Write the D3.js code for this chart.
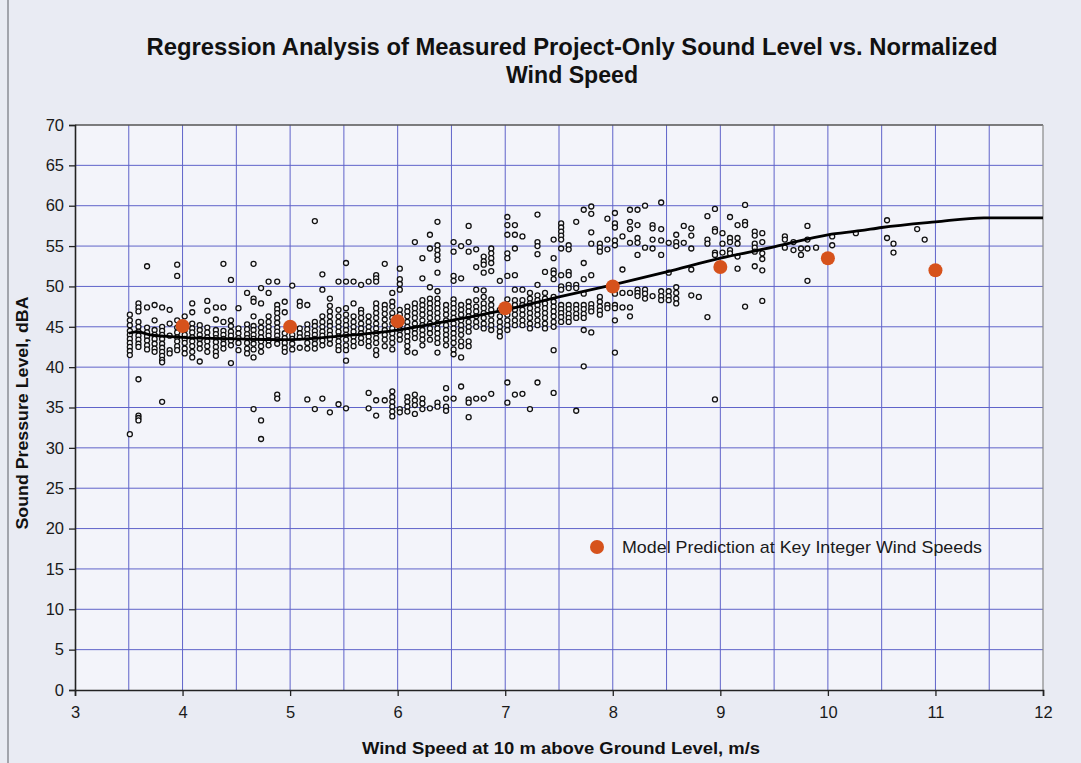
<!DOCTYPE html>
<html><head><meta charset="utf-8">
<script src="https://cdn.jsdelivr.net/npm/d3@7"></script>
<style>
html,body{margin:0;padding:0;background:#e9ebf3;}
svg{display:block;font-family:"Liberation Sans",Arial,sans-serif;}
</style></head>
<body>
<svg id="chart" width="1081" height="763"></svg>
<script>
// ---------- data ----------
const titleLines = ["Regression Analysis of Measured Project-Only Sound Level vs. Normalized", "Wind Speed"];
const xLabel = "Wind Speed at 10 m above Ground Level, m/s";
const yLabel = "Sound Pressure Level, dBA";
const legendLabel = "Model Prediction at Key Integer Wind Speeds";
const xTicks = [3,4,5,6,7,8,9,10,11,12];
const yTicks = [0,5,10,15,20,25,30,35,40,45,50,55,60,65,70];
const xGrid = [3.5,4,4.5,5,5.5,6,6.5,7,7.5,8,8.5,9,9.5,10,10.5,11,11.5];
const yGrid = [5,10,15,20,25,30,35,40,45,50,55,60,65];

// measured points, grouped by wind-speed column: [x, [y values]]
const measured = [
[3.51,[46.5,45.8,45.2,44.5,44.0,43.5,43.0,42.5,42.0,41.5,31.7]],
[3.59,[47.9,47.4,46.9,45.6,45.0,44.4,43.9,43.4,42.9,42.5,38.5,34.0,33.7,33.4]],
[3.67,[52.5,47.4,44.9,44.3,43.8,43.3,42.7,42.2]],
[3.74,[47.7,45.8,44.6,44.0,43.5,42.9,42.3,41.9]],
[3.81,[47.4,45.0,44.5,44.0,43.5,42.9,42.4,41.9,41.4,40.9,40.6,35.7]],
[3.88,[47.1,45.4,43.9,42.1,41.7]],
[3.95,[52.7,51.3,45.8,44.9,44.3,43.7,43.2,42.6,42.1]],
[4.02,[46.3,44.6,44.0,43.5,43.0,42.3,41.7]],
[4.09,[47.9,46.8,45.4,44.8,44.3,43.7,43.2,42.6,41.9,41.2]],
[4.16,[45.2,44.6,44.0,43.5,42.9,42.3,40.7]],
[4.23,[48.2,47.0,44.9,44.3,43.7,43.2,42.6,41.9]],
[4.31,[47.4,45.9,44.6,44.1,43.6,43.1,42.5,41.9,41.4]],
[4.38,[52.8,47.4,45.6,44.5,44.0,43.5,42.9,42.3]],
[4.45,[50.8,45.8,45.1,44.4,43.9,43.3,42.7,40.5]],
[4.52,[47.3,44.8,44.2,43.6,43.0,42.1]],
[4.60,[49.2,45.3,44.7,44.1,43.6,43.0,42.3,41.7]],
[4.66,[52.8,48.5,48.1,46.3,45.1,44.6,44.0,43.5,42.9,42.2,41.2,34.8]],
[4.73,[49.8,47.9,45.6,44.9,44.3,43.7,43.2,42.6,41.9,33.4,31.1]],
[4.80,[50.6,49.2,46.3,45.6,45.0,44.4,43.9,43.3,42.7]],
[4.88,[50.6,47.7,47.2,46.7,46.1,45.5,44.9,44.4,43.9,43.4,42.9,36.6,36.1]],
[4.95,[48.1,46.8,44.2,43.6,43.0,42.4,41.9]],
[5.02,[50.1,44.0,43.5,42.9,42.2]],
[5.09,[48.1,47.6,44.8,44.2,43.7,42.4]],
[5.16,[47.7,45.3,44.7,44.1,43.6,43.0,42.3,36.0]],
[5.23,[58.1,45.6,45.1,44.5,44.0,43.5,42.9,42.3,34.8]],
[5.30,[51.5,49.6,46.3,45.6,45.0,44.4,43.9,43.3,42.7,36.1]],
[5.37,[48.5,47.6,46.9,46.3,45.6,45.1,44.5,44.0,43.5,42.9,34.4]],
[5.45,[50.6,47.1,46.3,45.6,45.0,44.4,43.8,43.2,42.6,42.1,35.4]],
[5.52,[52.9,50.6,47.3,46.5,45.8,45.2,44.6,44.0,43.4,42.7,42.1,40.8,34.9]],
[5.59,[50.6,47.9,46.3,45.6,45.0,44.4,43.8,43.2,42.6]],
[5.66,[50.2,47.1,46.7,46.1,45.4,44.8,44.2,43.6,43.0]],
[5.73,[50.6,46.3,45.6,45.0,44.4,43.8,43.2,42.6,36.8,34.9]],
[5.80,[51.4,51.0,50.6,47.9,47.3,46.7,46.1,45.4,44.8,44.2,43.6,43.0,42.1,41.5,35.9,34.0]],
[5.88,[52.8,47.7,47.2,46.6,45.9,45.2,44.6,44.0,43.4,42.6,35.9]],
[5.95,[49.2,48.1,47.5,46.7,46.1,45.4,44.8,44.2,43.6,43.0,42.2,37.0,36.3,35.7,35.1,34.5,33.9]],
[6.02,[52.2,50.9,50.3,49.6,47.1,46.5,45.8,45.2,44.6,44.0,43.4,34.8,34.4]],
[6.09,[47.5,46.9,46.3,45.6,45.0,44.4,43.8,43.2,42.6,41.9,36.3,35.7,35.1,34.5]],
[6.16,[55.5,47.9,47.3,46.7,46.1,45.4,44.8,44.2,43.6,41.8,36.6,35.9,35.3,34.2]],
[6.23,[53.5,51.0,48.3,47.7,47.1,46.5,45.8,45.2,44.6,44.0,43.4,42.7,36.1,35.5,34.8]],
[6.30,[56.4,54.7,49.9,48.5,47.9,47.3,46.7,46.1,45.4,44.8,44.2,43.4,34.9]],
[6.37,[58.0,55.1,54.5,53.9,53.3,51.7,49.4,48.5,47.9,47.3,46.7,46.1,45.4,44.8,44.2,43.6,43.0,41.8,35.6,35.1]],
[6.45,[47.7,47.1,46.5,45.8,45.2,44.6,44.0,43.4,42.7,37.4,36.1,35.1,34.6]],
[6.52,[55.5,54.3,51.3,50.7,48.4,47.9,47.3,46.7,46.1,45.4,44.8,44.2,43.6,43.0,42.2,41.6,36.1]],
[6.59,[55.0,51.0,47.7,47.1,46.5,45.8,45.2,44.6,44.0,43.2,42.6,41.2,37.6]],
[6.66,[57.5,55.5,54.3,48.1,47.5,46.9,46.3,45.6,45.0,44.4,43.2,42.6,36.0,35.6,33.8]],
[6.73,[54.6,52.4,49.6,48.3,47.5,46.9,46.3,45.6,45.0,36.1]],
[6.80,[53.7,53.1,52.7,51.7,49.5,48.7,47.9,47.3,46.7,46.1,45.4,44.8,36.1]],
[6.87,[54.7,54.1,53.5,52.9,51.9,48.4,47.7,47.1,46.5,45.8,45.2,44.6,36.7]],
[6.95,[50.7,47.1,46.3,45.6,45.0,44.4,43.8]],
[7.02,[58.6,57.6,56.4,54.1,53.5,51.3,48.4,47.1,46.5,45.8,45.2,44.6,38.1,35.6]],
[7.09,[57.6,56.4,54.7,51.4,49.6,48.3,47.7,47.1,46.5,45.8,45.2,36.6]],
[7.16,[56.2,49.6,48.3,47.7,47.1,46.5,45.8,45.2,36.7]],
[7.23,[49.2,48.5,47.9,47.3,46.7,46.1,45.4,44.8,34.8]],
[7.30,[58.9,55.5,55.0,54.0,50.2,48.9,48.3,47.7,47.1,46.5,45.8,45.2,38.1]],
[7.37,[51.8,49.2,48.5,47.9,47.3,46.7,46.1,45.4,44.8]],
[7.45,[55.8,53.5,52.0,51.6,50.9,48.7,48.1,47.5,46.9,46.3,45.6,45.0,42.1,36.8]],
[7.52,[57.8,57.3,56.8,56.3,55.8,54.7,51.4,50.0,49.6,47.7,47.2,46.7,46.2,45.6]],
[7.59,[55.1,54.6,51.8,51.4,50.2,49.8,47.7,47.2,46.6,46.1,45.6]],
[7.66,[58.0,50.2,49.8,47.7,47.2,46.6,46.1,34.6]],
[7.73,[59.5,52.9,50.9,49.1,47.7,47.2,46.6,46.1,44.6,40.1]],
[7.80,[59.9,59.0,56.7,55.3,51.4,47.8,47.3,46.9,44.3]],
[7.88,[55.3,54.8,54.3,48.7,48.1,47.5,47.0,46.5]],
[7.95,[58.4,55.8,54.6,47.7,47.3]],
[8.02,[59.1,57.8,57.3,55.7,55.1,49.1,47.7,47.3,45.8,41.8]],
[8.09,[56.2,52.1,49.2,47.4]],
[8.16,[59.5,58.0,57.1,55.4,49.2,47.4,46.3]],
[8.23,[59.5,57.6,56.0,55.4,53.9,49.6,49.2,48.8]],
[8.30,[60.0,54.8,49.6,49.1,48.5]],
[8.37,[57.6,57.2,55.8,54.7,48.8]],
[8.45,[60.4,57.1,55.7,53.9,49.4,48.8,48.3]],
[8.52,[55.4,51.7,49.4,48.8,48.3]],
[8.59,[56.4,55.5,55.0,49.9,49.2,48.5,47.9]],
[8.66,[57.5,55.4]],
[8.73,[57.2,56.3,54.7,52.1,48.9]],
[8.80,[48.7]],
[8.88,[58.7,55.8,55.3,46.2]],
[8.95,[59.6,57.1,56.8,54.2,53.9,36.0]],
[9.02,[56.6,55.3,54.2]],
[9.09,[58.6,56.0,55.5,54.5,54.1]],
[9.16,[57.6,56.0,55.3,53.7,52.2]],
[9.23,[60.1,58.0,57.6,47.5]],
[9.32,[56.8,56.3,55.3,54.8,54.3,52.5]],
[9.39,[56.6,55.5,54.1,53.4,52.0,48.2]],
[9.60,[56.2,55.8,54.8]],
[9.68,[55.5,54.5]],
[9.75,[54.7,53.9]],
[9.81,[57.5,55.8,54.7,50.7]],
[9.89,[54.8]],
[10.04,[56.2,55.1]],
[10.26,[56.6]],
[10.55,[58.2,56.0]],
[10.61,[55.3,54.2]],
[10.83,[57.1]],
[10.90,[55.8]]
];

// regression curve
const fitX = [3.5,3.58,3.7,4.0,4.5,5.0,5.5,6.0,6.5,7.0,7.5,8.0,8.5,9.0,9.5,10.0,10.3,10.5,11.0,11.45,12.0];
const fitY = [44.2,44.4,44.0,43.7,43.5,43.4,43.9,44.6,45.8,47.1,48.7,50.2,51.8,53.5,54.9,56.4,56.9,57.3,58.0,58.5,58.5];

// model predictions at integer wind speeds
const modelX = [4,5,6,7,8,9,10,11];
const modelY = [45.1,45.0,45.7,47.3,50.0,52.4,53.5,52.0];

// ---------- drawing ----------
const svg = d3.select("#chart");
const W = 1081, H = 763;
const m = {left:75, right:1043, top:125, bottom:690};
const x = d3.scaleLinear().domain([3,12]).range([m.left, m.right]);
const y = d3.scaleLinear().domain([0,70]).range([m.bottom, m.top]);

// scan frame line on left
svg.append("line").attr("x1",8).attr("x2",8).attr("y1",0).attr("y2",H)
  .attr("stroke","#8a8c94").attr("stroke-width",1.5);

// plot background
svg.append("rect").attr("x",m.left).attr("y",m.top)
  .attr("width",m.right-m.left).attr("height",m.bottom-m.top)
  .attr("fill","#f3f4fa");

// grid
const grid = svg.append("g").attr("stroke","#5f63c9").attr("stroke-width",1);
grid.selectAll(".vg").data(xGrid).join("line")
  .attr("x1",d=>x(d)).attr("x2",d=>x(d)).attr("y1",m.top).attr("y2",m.bottom);
grid.selectAll(".hg").data(yGrid).join("line")
  .attr("x1",m.left).attr("x2",m.right).attr("y1",d=>y(d)).attr("y2",d=>y(d));

// frame top/right
svg.append("line").attr("x1",m.left).attr("x2",m.right).attr("y1",m.top).attr("y2",m.top)
  .attr("stroke","#555").attr("stroke-width",1.5);
svg.append("line").attr("x1",m.right).attr("x2",m.right).attr("y1",m.top).attr("y2",m.bottom)
  .attr("stroke","#888").attr("stroke-width",1.2);

// axes
const xAxis = d3.axisBottom(x).tickValues(xTicks).tickSize(6).tickPadding(10).tickFormat(d3.format("d"));
const yAxis = d3.axisLeft(y).tickValues(yTicks).tickSize(6).tickPadding(5).tickFormat(d3.format("d"));
const gx = svg.append("g").attr("transform",`translate(0,${m.bottom})`).call(xAxis);
const gy = svg.append("g").attr("transform",`translate(${m.left},0)`).call(yAxis);
[gx,gy].forEach(g=>{
  g.select(".domain").attr("stroke","#222").attr("stroke-width",1.6);
  g.selectAll(".tick line").attr("stroke","#222").attr("stroke-width",1.3);
  g.selectAll(".tick text").attr("fill","#1a1a1a").style("font-size","16.5px")
    .style("font-family","'Liberation Sans',Arial,sans-serif");
});

// measured points
const pts = [];
measured.forEach(([xv, ys]) => ys.forEach(yv => pts.push([xv, yv])));
svg.append("g").selectAll("circle").data(pts).join("circle")
  .attr("cx",d=>x(d[0])).attr("cy",d=>y(d[1])).attr("r",2.5)
  .attr("fill","#f8f8fb").attr("stroke","#111").attr("stroke-width",1.3);

// regression curve
const line = d3.line().x(d=>x(d[0])).y(d=>y(d[1])).curve(d3.curveMonotoneX);
svg.append("path").datum(fitX.map((v,i)=>[v,fitY[i]]))
  .attr("d",line).attr("fill","none").attr("stroke","#000").attr("stroke-width",2.8);

// model predictions
svg.append("g").selectAll("circle").data(modelX.map((v,i)=>[v,modelY[i]])).join("circle")
  .attr("cx",d=>x(d[0])).attr("cy",d=>y(d[1])).attr("r",7).attr("fill","#d6521c");

// legend
svg.append("circle").attr("cx",597).attr("cy",547).attr("r",7).attr("fill","#d6521c");
svg.append("text").attr("x",622).attr("y",553).text(legendLabel)
  .attr("textLength",360).attr("lengthAdjust","spacingAndGlyphs")
  .style("font-size","17px").attr("fill","#1a1a1a");

// title
const titleWidths = [851, 132];
svg.append("g").selectAll("text").data(titleLines).join("text")
  .attr("x",572).attr("y",(d,i)=>55+i*28).attr("text-anchor","middle")
  .attr("textLength",(d,i)=>titleWidths[i]).attr("lengthAdjust","spacingAndGlyphs")
  .style("font-size","24px").style("font-weight","bold").attr("fill","#111").text(d=>d);

// axis titles
svg.append("text").attr("x",561).attr("y",754).attr("text-anchor","middle")
  .attr("textLength",398).attr("lengthAdjust","spacingAndGlyphs")
  .style("font-size","16px").style("font-weight","bold").attr("fill","#111").text(xLabel);
svg.append("text").attr("transform",`translate(28,413) rotate(-90)`)
  .attr("text-anchor","middle").attr("textLength",233).attr("lengthAdjust","spacingAndGlyphs")
  .style("font-size","16px").style("font-weight","bold")
  .attr("fill","#111").text(yLabel);
</script>
</body></html>
